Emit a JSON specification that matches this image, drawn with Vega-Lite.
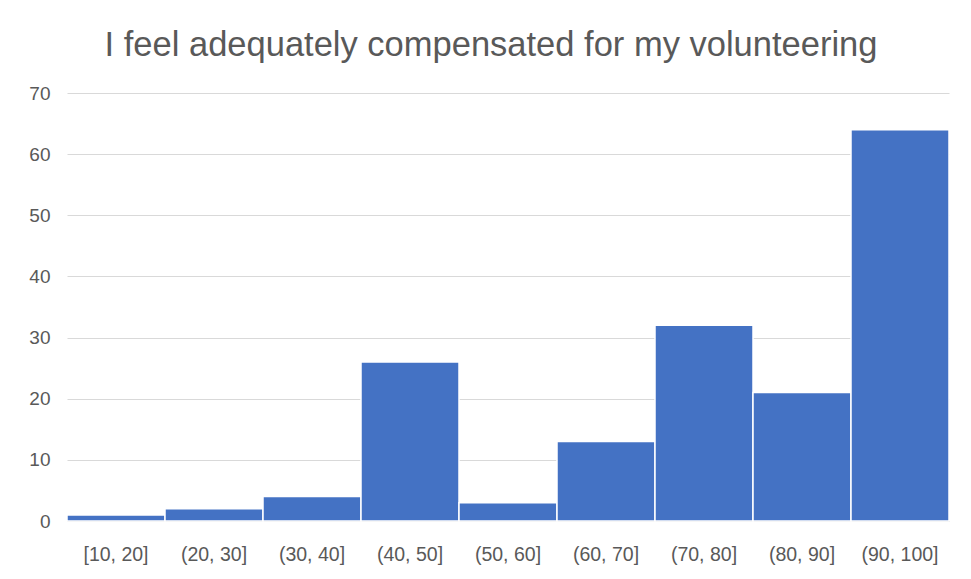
{
  "$schema": "https://vega.github.io/schema/vega-lite/v6.json",
  "width": 882,
  "height": 428,
  "autosize": "none",
  "padding": {"left": 67, "top": 93, "right": 22, "bottom": 58},
  "background": "white",
  "title": {
    "text": "I feel adequately compensated for my volunteering",
    "font": "Liberation Sans",
    "fontSize": 34.5,
    "fontWeight": "normal",
    "color": "#595959",
    "anchor": "middle",
    "dx": -17,
    "offset": 21
  },
  "data": {
    "values": [
      {"bin": "[10, 20]", "count": 1},
      {"bin": "(20, 30]", "count": 2},
      {"bin": "(30, 40]", "count": 4},
      {"bin": "(40, 50]", "count": 26},
      {"bin": "(50, 60]", "count": 3},
      {"bin": "(60, 70]", "count": 13},
      {"bin": "(70, 80]", "count": 32},
      {"bin": "(80, 90]", "count": 21},
      {"bin": "(90, 100]", "count": 64}
    ]
  },
  "mark": {"type": "bar", "color": "#4472C4", "stroke": "white", "strokeWidth": 1.5},
  "encoding": {
    "x": {
      "field": "bin",
      "type": "nominal",
      "sort": null,
      "scale": {"paddingInner": 0, "paddingOuter": 0},
      "axis": {
        "title": null,
        "labelAngle": 0,
        "labelFont": "Liberation Sans",
        "labelFontSize": 19.5,
        "labelColor": "#595959",
        "labelPadding": 24,
        "ticks": false,
        "domainColor": "#d9d9d9",
        "domainWidth": 1
      }
    },
    "y": {
      "field": "count",
      "type": "quantitative",
      "scale": {"domain": [0, 70], "nice": false},
      "axis": {
        "title": null,
        "values": [0, 10, 20, 30, 40, 50, 60, 70],
        "labelFont": "Liberation Sans",
        "labelFontSize": 19,
        "labelColor": "#595959",
        "labelPadding": 17,
        "ticks": false,
        "domain": false,
        "gridColor": "#d9d9d9",
        "gridWidth": 1
      }
    }
  },
  "config": {"view": {"stroke": null}}
}
